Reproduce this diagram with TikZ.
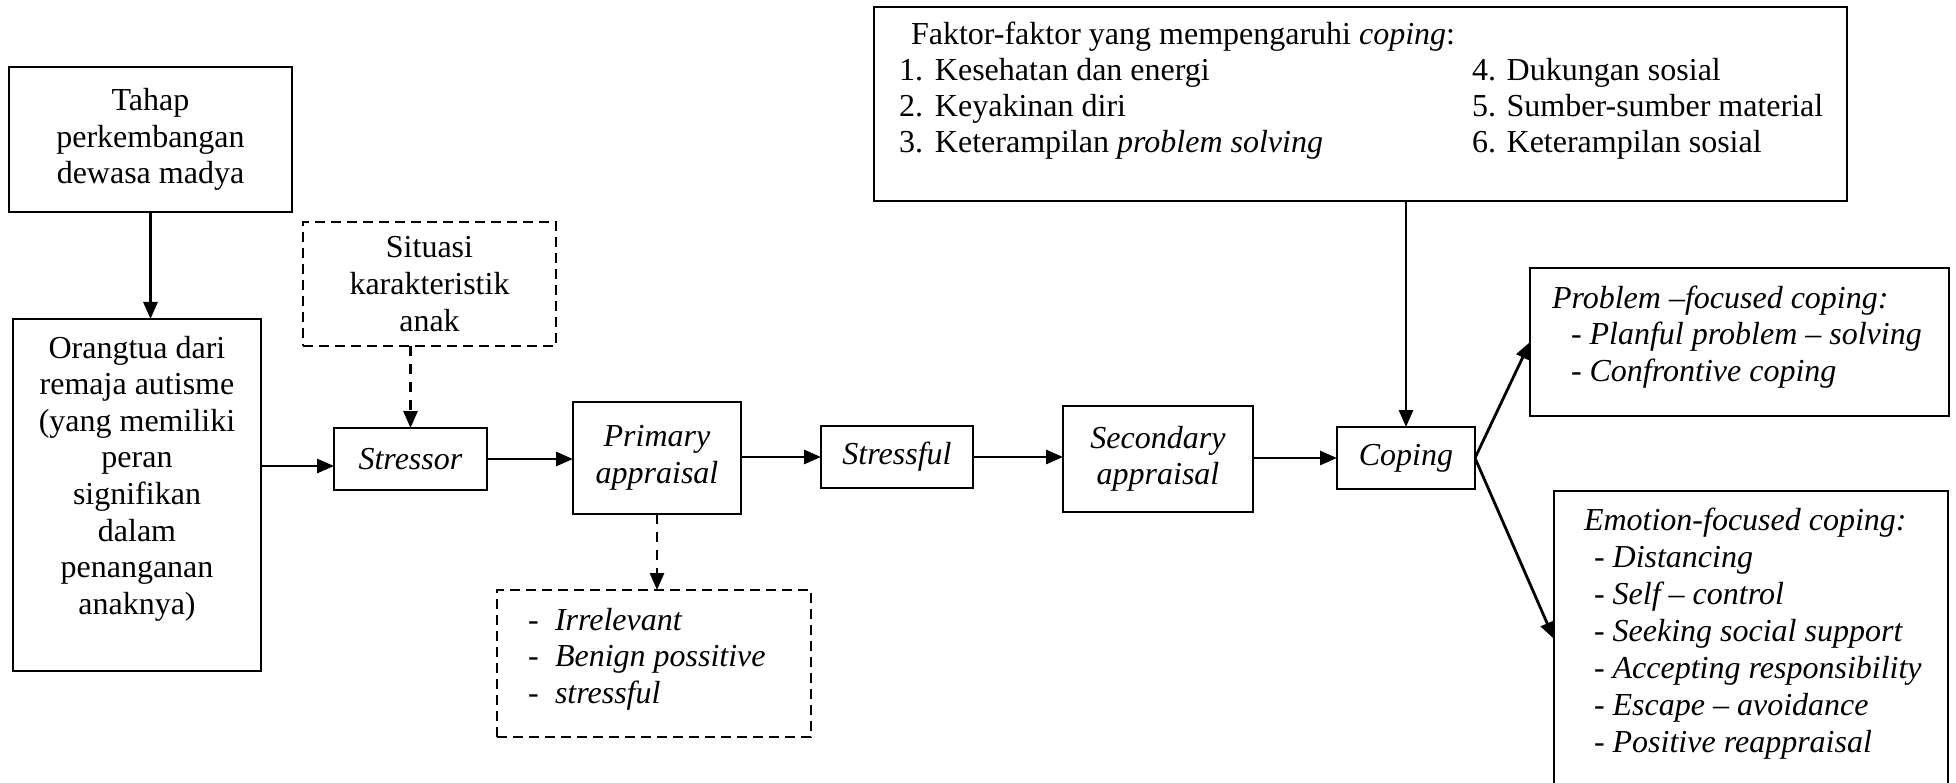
\documentclass[tikz,border=0pt]{standalone}
\usepackage{fontspec}
\setmainfont{Liberation Serif}
\usetikzlibrary{arrows.meta,calc}
\begin{document}
\begin{tikzpicture}[x=1pt,y=-1pt,
  box/.style={draw, line width=2.4pt, inner sep=0pt, outer sep=0pt, align=center,
    font=\fontsize{32}{36.6}\selectfont},
  tbox/.style={draw, line width=2.4pt, inner sep=0pt, outer sep=0pt,
    font=\fontsize{32}{36.6}\selectfont},
  dbox/.style={box, line width=2pt, dash pattern=on 10pt off 6pt},
  dtbox/.style={tbox, line width=2pt, dash pattern=on 10pt off 6pt},
  arr/.style={line width=2.8pt, -{Triangle[length=17pt,width=14pt]}},
  darr/.style={arr, dash pattern=on 10pt off 8pt}]
\useasboundingbox (0,0) rectangle (1956,783);
\clip (0,0) rectangle (1956,783);

% left boxes
\node[box, minimum width=283pt, minimum height=145pt] (tahap) at (150.5,139.5)
  {Tahap\\perkembangan\\dewasa madya};
\node[tbox, minimum width=248pt, minimum height=352pt] (orangtua) at (137,495)
  {\parbox[c][352pt][t]{248pt}{\centering\vspace*{13.4pt}\leavevmode\strut Orangtua dari\\
   remaja autisme\\ (yang memiliki\\ peran\\ signifikan\\ dalam\\ penanganan\\ anaknya)}};
\node[dbox, minimum width=253pt, minimum height=124pt] (situasi) at (429.5,284)
  {Situasi\\karakteristik\\anak};

% main chain
\node[box, minimum width=153pt, minimum height=62pt] (stressor) at (410.5,459) {\textit{Stressor}};
\node[box, minimum width=168pt, minimum height=112pt] (primary) at (657,458)
  {\textit{Primary}\\\textit{appraisal}};
\node[dtbox, minimum width=314pt, minimum height=147pt] (list) at (654,663.5)
  {\parbox[c][147pt][t]{314pt}{\raggedright\vspace*{14.4pt}\leavevmode\strut
   \hspace*{31pt}\makebox[27pt][l]{-}\textit{Irrelevant}\\
   \hspace*{31pt}\makebox[27pt][l]{-}\textit{Benign possitive}\\
   \hspace*{31pt}\makebox[27pt][l]{-}\textit{stressful}}};
\node[box, minimum width=152pt, minimum height=62pt] (stressful) at (897,457) {\textit{Stressful}};
\node[box, minimum width=190pt, minimum height=106pt] (secondary) at (1158,459)
  {\textit{Secondary}\\\textit{appraisal}};
\node[box, minimum width=138pt, minimum height=62pt] (coping) at (1406,458) {\textit{Coping}};

% factors
\node[tbox, minimum width=973pt, minimum height=194pt] (faktor) at (1360.5,104)
  {\parbox[c][194pt][t]{973pt}{\fontsize{32}{36}\selectfont\raggedright\vspace*{12pt}\leavevmode\strut
   \hspace*{37pt}Faktor-faktor yang mempengaruhi \textit{coping}:\\
   \hspace*{25pt}\makebox[573pt][l]{\makebox[36pt][l]{1.}Kesehatan dan energi}4. Dukungan sosial\\
   \hspace*{25pt}\makebox[573pt][l]{\makebox[36pt][l]{2.}Keyakinan diri}5. Sumber-sumber material\\
   \hspace*{25pt}\makebox[573pt][l]{\makebox[36pt][l]{3.}Keterampilan \textit{problem solving}}6. Keterampilan sosial}};

% outcome boxes
\node[tbox, minimum width=419pt, minimum height=148pt] (problem) at (1739.5,342)
  {\parbox[c][148pt][t]{419pt}{\itshape\fontsize{32}{36.6}\selectfont\raggedright\vspace*{14.4pt}\leavevmode\strut
   \hspace*{22pt}Problem --focused coping:\\
   \hspace*{41pt}- Planful problem -- solving\\
   \hspace*{41pt}- Confrontive coping}};
\node[tbox, minimum width=394pt, minimum height=296pt] (emotion) at (1751,639)
  {\parbox[c][296pt][t]{394pt}{\itshape\fontsize{32}{37}\selectfont\raggedright\vspace*{13.4pt}\leavevmode\strut
   \hspace*{30pt}Emotion-focused coping:\\
   \hspace*{40pt}- Distancing\\
   \hspace*{40pt}- Self -- control\\
   \hspace*{40pt}- Seeking social support\\
   \hspace*{40pt}- Accepting responsibility\\
   \hspace*{40pt}- Escape -- avoidance\\
   \hspace*{40pt}- Positive reappraisal}};

% connectors
\draw[arr] (tahap.south) -- (tahap.south |- orangtua.north);
\coordinate (s1) at ($(stressor.west)+(0,7)$);
\draw[arr] (orangtua.east |- s1) -- (s1);
\draw[darr] (stressor.north |- situasi.south) -- (stressor.north);
\draw[arr] (stressor.east) -- (stressor.east -| primary.west);
\draw[darr] (primary.south) -- (primary.south |- list.north);
\draw[arr] (primary.east |- stressful.west) -- (stressful.west);
\draw[arr] (stressful.east) -- (stressful.east -| secondary.west);
\draw[arr] (secondary.east |- coping.west) -- (coping.west);
\draw[arr] (coping.north |- faktor.south) -- (coping.north);
\draw[arr] (coping.east) -- (problem.west);
\draw[arr] (coping.east) -- (emotion.west);
\end{tikzpicture}
\end{document}
